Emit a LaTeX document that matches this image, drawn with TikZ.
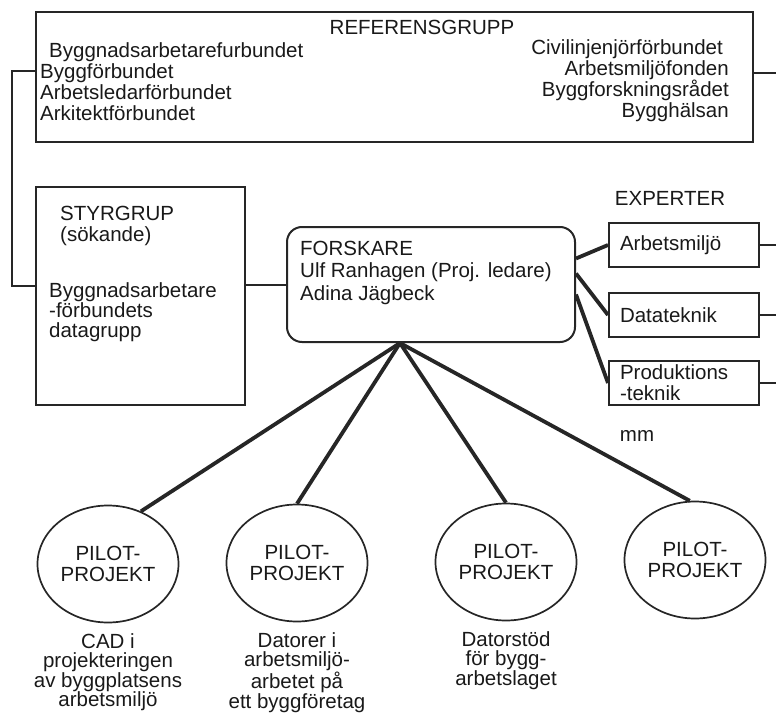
\documentclass[tikz,border=0pt]{standalone}
\usepackage{fontspec}
\setmainfont{Liberation Sans}
\usetikzlibrary{shapes.geometric, positioning}

\begin{document}
\begin{tikzpicture}[x=1pt, y=-1pt, every node/.style={font=\fontsize{20.5}{21}\selectfont, text=black!90, inner sep=0pt}]
    % Styles
    \tikzstyle{group} = [rectangle, draw=black!85, line width=2pt]
    \tikzstyle{expert} = [rectangle, draw=black!85, line width=2pt, minimum width=150pt, minimum height=44pt, text width=128pt, inner xsep=11pt, align=left]
    \tikzstyle{pilot} = [ellipse, draw=black!85, line width=1.7pt, minimum width=141pt, minimum height=117pt, align=center]
    \tikzstyle{note} = [align=center, font=\fontsize{20.5}{19.5}\selectfont]
    \tikzstyle{link} = [draw=black!85, line width=2pt]
    \tikzstyle{spoke} = [draw=black!85, line width=3.8pt]

    \useasboundingbox (0,0) rectangle (776,714);

    % Groups
    \node[group, minimum width=717pt, minimum height=130pt] (refgrp) at (394.5,77) {};
    \node (reftitle) at (422,27) {REFERENSGRUPP};
    \node[anchor=north west, align=left] (refleft) at (40,42.5) {\hspace*{9pt}Byggnadsarbetarefurbundet\\Byggförbundet\\Arbetsledarförbundet\\Arkitektförbundet};
    \node[anchor=north east, align=right] (refright) at (729,39.5) {Civilinjenjörförbundet\hspace*{6pt}\\Arbetsmiljöfonden\\Byggforskningsrådet\\Bygghälsan};

    \node[group, minimum width=209pt, minimum height=218pt] (styr) at (140.5,296) {};
    \node[anchor=north west, align=left] (styrhead) at (60,205.5) {STYRGRUP\\(sökande)};
    \node[anchor=north west, align=left, font=\fontsize{20.5}{20}\selectfont] (styrbody) at (49,282.5) {Byggnadsarbetare\\-förbundets\\datagrupp};

    \node[group, rounded corners=15pt, minimum width=288pt, minimum height=115pt] (forskare) at (431,284.5) {};
    \node[anchor=north west, align=left, font=\fontsize{20.5}{22.5}\selectfont] (forskaretext) at (300,240.5) {FORSKARE\\Ulf Ranhagen (Proj. ledare)\\Adina Jägbeck};

    % Experts
    \node (experttitle) at (670,198) {EXPERTER};
    \node[expert] (arbmiljo) at (684,245) {Arbetsmiljö};
    \node[expert, below=24pt of arbmiljo] (datatek) {Datateknik};
    \node[expert, below=22pt of datatek] (prodtek) {Produktions\\-teknik};
    \node (mm) at (637,436) {mm};

    % Pilot projects
    \node[pilot] (pilotA) at (108,564) {PILOT-\\PROJEKT};
    \node[pilot] (pilotB) at (297,563) {PILOT-\\PROJEKT};
    \node[pilot] (pilotC) at (506,562) {PILOT-\\PROJEKT};
    \node[pilot] (pilotD) at (695,560) {PILOT-\\PROJEKT};

    \node[note, below=10pt of pilotA] (noteA) {CAD i\\projekteringen\\av byggplatsens\\arbetsmiljö};
    \node[note, below=10pt of pilotB] (noteB) {Datorer i\\arbetsmiljö-\\arbetet på\\ett byggföretag};
    \node[note, below=10pt of pilotC] (noteC) {Datorstöd\\för bygg-\\arbetslaget};

    % Connectors
    \coordinate (rim) at (776,0);
    \coordinate (hub) at ([xshift=-31pt]forskare.south);
    \draw[link, line width=2.8pt] ([yshift=6pt]refgrp.west) -- ++(-23,0) |- ([yshift=10pt]styr.west);
    \draw[link] ([yshift=4pt]refgrp.east) -- ([yshift=4pt]refgrp.east -| rim);
    \draw[link] (styr.east |- forskare.west) -- (forskare.west);

    \draw[spoke] ([yshift=26pt]forskare.east) -- (arbmiljo.west);
    \draw[spoke] ([yshift=11pt]forskare.east) -- (datatek.west);
    \draw[spoke] ([yshift=-10pt]forskare.east) -- (prodtek.west);
    \draw[link] (arbmiljo.east) -- (arbmiljo.east -| rim);
    \draw[link] (datatek.east) -- (datatek.east -| rim);
    \draw[link] (prodtek.east) -- (prodtek.east -| rim);

    \draw[spoke] (hub) -- (pilotA.58);
    \draw[spoke] (hub) -- (pilotB.north);
    \draw[spoke] (hub) -- (pilotC.north);
    \draw[spoke] (hub) -- (pilotD.95);
\end{tikzpicture}
\end{document}
